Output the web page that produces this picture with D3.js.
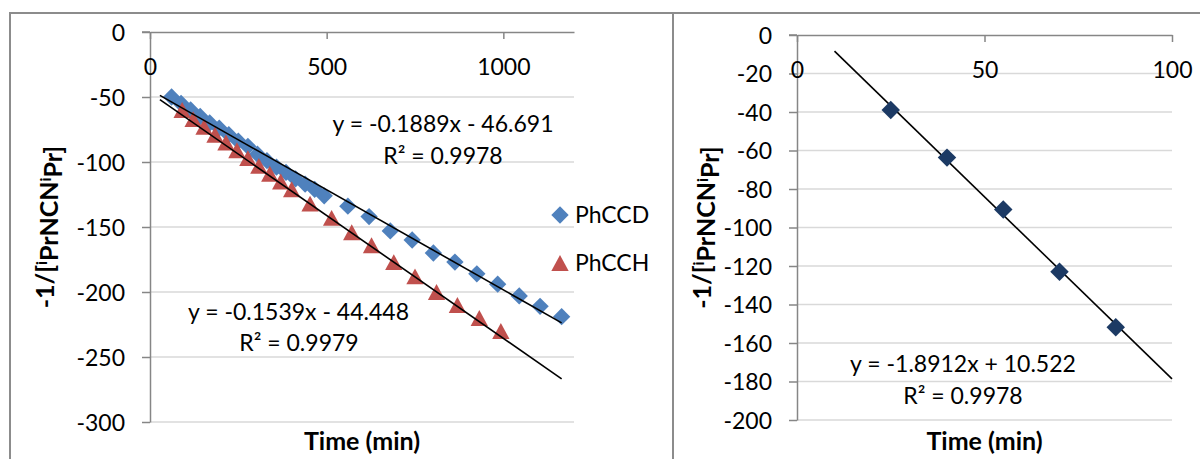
<!DOCTYPE html>
<html><head><meta charset="utf-8">
<script src="https://cdn.jsdelivr.net/npm/d3@7"></script>
<style>
body{margin:0;background:#fff}
svg{display:block}
text{font-family:Lato,'Open Sans',sans-serif;fill:#000}
</style>
</head><body>
<svg id="c" width="1200" height="459"></svg>
<script>
// ---- data ----
const phccdTime = [61, 88, 115, 142, 169, 196, 223, 250, 277, 304, 331, 358, 385, 412, 439, 466, 493, 560, 620, 680, 742, 802, 863, 925, 984, 1045, 1104, 1165];
const phccdVal  = [-50, -55, -60, -65, -70, -74, -79, -84, -88, -94, -99, -104, -108, -113, -117, -121, -126, -134, -142, -153, -160, -170, -177, -186, -194, -203, -211, -219];
const phcchTime = [91, 122, 153, 184, 215, 246, 277, 308, 339, 370, 401, 453, 514, 571, 627, 690, 750, 811, 870, 932, 993];
const phcchVal  = [-60, -67, -73, -79, -85, -91, -97, -103, -109, -115, -121, -132, -143, -154, -164, -177, -188, -200, -210, -220, -230];
const rightTime = [25, 40, 55, 70, 85];
const rightVal  = [-39, -63.7, -90.6, -123, -151.8];

const leftXTicks  = [0, 500, 1000];
const leftYTicks  = [0, -50, -100, -150, -200, -250, -300];
const rightXTicks = [0, 50, 100];
const rightYTicks = [0, -20, -40, -60, -80, -100, -120, -140, -160, -180, -200];

const seriesNames = ["PhCCD", "PhCCH"];
// fits (slope, intercept) drawn over time range
const fitCCD = [-0.1539, -44.448];
const fitCCH = [-0.1889, -46.691];
const fitRight = [-1.8912, 10.522];
const leftFitRange = [28, 1165];
const rightFitRange = [10, 100];
const eqTexts = ["y = -0.1889x - 46.691", "R² = 0.9978", "y = -0.1539x - 44.448", "R² = 0.9979"];
const eqRight = ["y = -1.8912x + 10.522", "R² = 0.9978"];

// ---- drawing ----
const svg = d3.select("#c");
const AX = "#868686", GRID = "#d9d9d9";
const BLUE = "#4f81bd", RED = "#c0504d", NAVY = "#1c3a64";
const FS = 23, TFS = 25;
const fmt = v => d3.format("d")(v).replace("−","-");

// frames
svg.append("rect").attr("x",10).attr("y",13).attr("width",663).attr("height",470)
  .attr("fill","none").attr("stroke","#8c8c8c").attr("stroke-width",2);
svg.append("rect").attr("x",673).attr("y",13).attr("width",540).attr("height",470)
  .attr("fill","none").attr("stroke","#8c8c8c").attr("stroke-width",2);

const triType = {draw(ctx, size){ const w = Math.sqrt(size), h = w*0.92;
  ctx.moveTo(0,-h/2); ctx.lineTo(w/2,h/2); ctx.lineTo(-w/2,h/2); ctx.closePath(); }};
const diaType = {draw(ctx, size){ const r = Math.sqrt(size)/2;
  ctx.moveTo(0,-r); ctx.lineTo(r,0); ctx.lineTo(0,r); ctx.lineTo(-r,0); ctx.closePath(); }};

function panel(o){
  const x = d3.scaleLinear().domain(o.xd).range(o.xr);
  const y = d3.scaleLinear().domain(o.yd).range(o.yr);
  const g = svg.append("g");
  g.selectAll(".gl").data(o.yTicks.filter(v=>v!==0)).join("line")
    .attr("x1",o.xr[0]).attr("x2",o.xr[1]).attr("y1",d=>y(d)).attr("y2",d=>y(d))
    .attr("stroke",GRID).attr("stroke-width",1.5);
  const ya = g.append("g").attr("transform",`translate(${o.xr[0]},0)`)
    .call(d3.axisLeft(y).tickValues(o.yTicks).tickSize(8).tickSizeOuter(0).tickFormat(fmt));
  ya.select(".domain").attr("stroke",AX).attr("stroke-width",1.5);
  ya.selectAll(".tick line").attr("stroke",AX).attr("stroke-width",1.5);
  ya.selectAll(".tick text").attr("x",-o.yLabOff).attr("dy","0.35em")
    .style("font-size",FS+"px").style("font-family","Lato");
  const xa = g.append("g").attr("transform",`translate(0,${y(0)})`)
    .call(d3.axisBottom(x).tickValues(o.xTicks).tickSize(7).tickSizeOuter(0).tickFormat(fmt));
  xa.select(".domain").attr("stroke",AX).attr("stroke-width",1.5);
  xa.selectAll(".tick line").attr("stroke",AX).attr("stroke-width",1.5);
  xa.selectAll(".tick text").attr("y",o.xLabOff).attr("dy","0.35em")
    .style("font-size",FS+"px").style("font-family","Lato");
  g.append("line").attr("x1",o.xr[0]-8).attr("x2",o.xr[0]).attr("y1",y(0)).attr("y2",y(0))
    .attr("stroke",AX).attr("stroke-width",1.5);
  g.append("text").attr("x",(o.xr[0]+o.xr[1])/2).attr("y",o.xTitleY).attr("text-anchor","middle")
    .style("font-size",TFS+"px").style("font-weight","bold").text("Time (min)");
  const yt = g.append("text").attr("transform",`translate(${o.yTitleX},${(o.yr[0]+o.yr[1])/2}) rotate(-90)`)
    .attr("text-anchor","middle").attr("dy","0.35em").style("font-size",TFS+"px").style("font-weight","bold");
  yt.append("tspan").text("-1/[");
  yt.append("tspan").attr("dy","-0.45em").style("font-size",(TFS*0.62)+"px").text("i");
  yt.append("tspan").attr("dy","0.45em").text("PrNCN");
  yt.append("tspan").attr("dy","-0.45em").style("font-size",(TFS*0.62)+"px").text("i");
  yt.append("tspan").attr("dy","0.45em").text("Pr]");
  return {x,y,g};
}

const L = panel({xd:[0,1200], xr:[150,574], yd:[-300,0], yr:[422,32],
  xTicks:leftXTicks, yTicks:leftYTicks, yLabOff:25, xLabOff:35, xTitleY:450, yTitleX:45});
const R = panel({xd:[0,100], xr:[797,1172], yd:[-200,0], yr:[420,35],
  xTicks:rightXTicks, yTicks:rightYTicks, yLabOff:25, xLabOff:35, xTitleY:450, yTitleX:702});

const dia = d3.symbol().type(diaType).size(300);
const tri = d3.symbol().type(triType).size(300);
L.g.selectAll(".ccd").data(phccdTime.map((t,i)=>[t,phccdVal[i]])).join("path")
  .attr("d",dia).attr("fill",BLUE).attr("transform",d=>`translate(${L.x(d[0])},${L.y(d[1])})`);
L.g.selectAll(".cch").data(phcchTime.map((t,i)=>[t,phcchVal[i]])).join("path")
  .attr("d",tri).attr("fill",RED).attr("transform",d=>`translate(${L.x(d[0])},${L.y(d[1])})`);
[fitCCD, fitCCH].forEach(f=>{
  L.g.append("line").attr("x1",L.x(leftFitRange[0])).attr("y1",L.y(f[0]*leftFitRange[0]+f[1]))
    .attr("x2",L.x(leftFitRange[1])).attr("y2",L.y(f[0]*leftFitRange[1]+f[1]))
    .attr("stroke","#000").attr("stroke-width",1.6);
});
const eqPos = [[443,123.5],[443,155.5],[298.5,311.5],[299,343]];
eqTexts.forEach((t,i)=>svg.append("text").attr("x",eqPos[i][0]).attr("y",eqPos[i][1]).attr("dy","0.35em")
  .attr("text-anchor","middle").style("font-size",FS+"px").text(t));
const leg = svg.append("g");
seriesNames.forEach((n,i)=>{
  const yy = 215 + i*48;
  leg.append("path").attr("d", i===0?dia:tri).attr("fill", i===0?BLUE:RED).attr("transform",`translate(560,${yy})`);
  leg.append("text").attr("x",575).attr("y",yy).attr("dy","0.35em").style("font-size",FS+"px").text(n);
});

R.g.append("line").attr("x1",R.x(rightFitRange[0])).attr("y1",R.y(fitRight[0]*rightFitRange[0]+fitRight[1]))
  .attr("x2",R.x(rightFitRange[1])).attr("y2",R.y(fitRight[0]*rightFitRange[1]+fitRight[1]))
  .attr("stroke","#000").attr("stroke-width",1.6);
const diaR = d3.symbol().type(diaType).size(340);
R.g.selectAll(".rp").data(rightTime.map((t,i)=>[t,rightVal[i]])).join("path")
  .attr("d",diaR).attr("fill",NAVY).attr("transform",d=>`translate(${R.x(d[0])},${R.y(d[1])})`);
eqRight.forEach((t,i)=>svg.append("text").attr("x",963).attr("y",364+i*32).attr("dy","0.35em")
  .attr("text-anchor","middle").style("font-size",FS+"px").text(t));
</script>
</body></html>
